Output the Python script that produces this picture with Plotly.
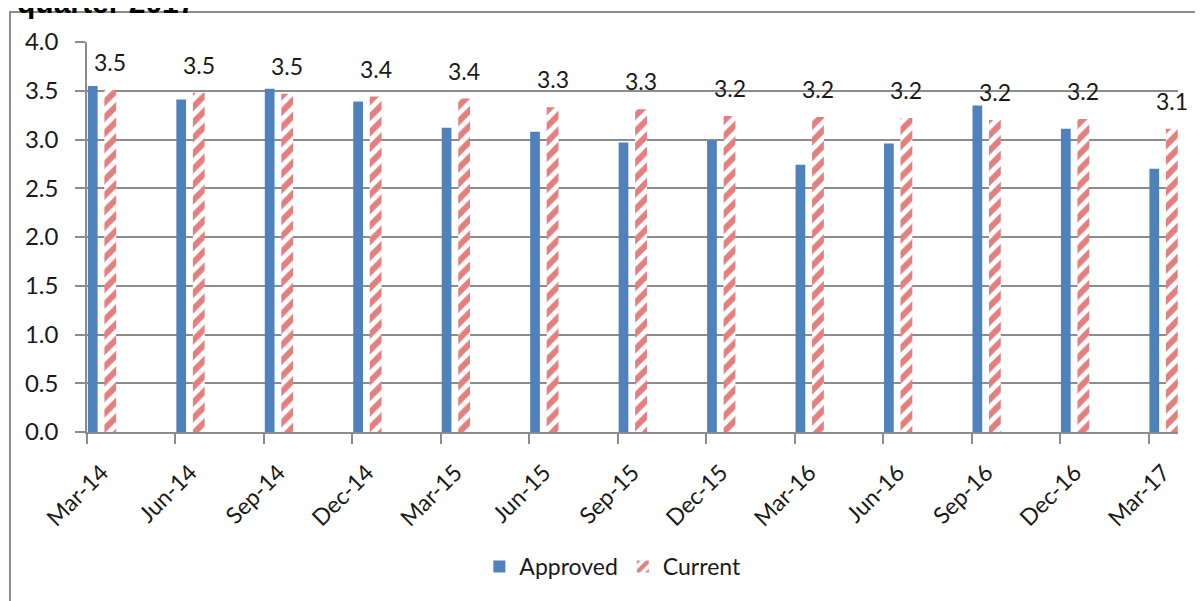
import plotly.graph_objects as go

quarters = ["Mar-14", "Jun-14", "Sep-14", "Dec-14", "Mar-15", "Jun-15", "Sep-15",
            "Dec-15", "Mar-16", "Jun-16", "Sep-16", "Dec-16", "Mar-17"]
# months since Mar-14 (the axis is a monthly date axis)
month_idx = [0, 3, 6, 9, 12, 15, 18, 21, 24, 27, 30, 33, 36]
approved = [3.55, 3.41, 3.52, 3.39, 3.12, 3.08, 2.97, 2.99, 2.74, 2.96, 3.35, 3.11, 2.70]
current = [3.51, 3.48, 3.47, 3.44, 3.42, 3.33, 3.31, 3.24, 3.23, 3.22, 3.20, 3.21, 3.11]
y_ticks = [0.0, 0.5, 1.0, 1.5, 2.0, 2.5, 3.0, 3.5, 4.0]

FONT = "Lato"
GREY = "#8c8c8c"
TXT = "#1a1a1a"

fig = go.Figure()

fig.add_trace(go.Bar(
    x=month_idx, y=approved, name="Approved",
    offset=-0.47, width=0.33,
    marker=dict(color="#4F81BD", line=dict(width=0)),
))
fig.add_trace(go.Bar(
    x=month_idx, y=current, name="Current",
    offset=0.09, width=0.40,
    marker=dict(color="white", line=dict(width=0),
                pattern=dict(shape="/", fgcolor="#C80000", bgcolor="white",
                             size=11, solidity=0.55)),
))

# value labels above the Current bars
for m, v in zip(month_idx, current):
    fig.add_annotation(x=m + 0.29, y=v, text=f"{v:.1f}", showarrow=False,
                       yshift=28, font=dict(family=FONT, size=23, color=TXT))

# cut-off title from the page above
fig.add_annotation(xref="paper", yref="paper", x=-0.066, y=1.053,
                   xanchor="left", yanchor="bottom", showarrow=False,
                   text="<b>quarter 2017</b>",
                   font=dict(family="Liberation Sans", size=30, color="black"))

# outer chart frame
fig.add_shape(type="rect", xref="paper", yref="paper",
              x0=-0.0706, x1=1.2, y0=-0.6, y1=1.0769,
              line=dict(color=GREY, width=2), layer="below")

fig.update_layout(
    width=1195, height=593,
    margin=dict(l=79, r=25, t=34, b=169),
    plot_bgcolor="white", paper_bgcolor="white",
    barmode="overlay",
    font=dict(family=FONT, size=23, color=TXT),
    showlegend=True,
    legend=dict(orientation="h", x=0.482, xanchor="center", y=-0.345, yanchor="middle",
                font=dict(family=FONT, size=23, color=TXT), itemwidth=30),
)

fig.update_xaxes(
    range=[-0.5, 36.5],
    tickvals=month_idx, ticktext=quarters, tickangle=-45,
    ticks="", showgrid=False,
    showline=True, linecolor=GREY, linewidth=2,
    minor=dict(tick0=-0.5, dtick=3, ticks="outside", ticklen=10,
               tickcolor=GREY, tickwidth=2, showgrid=False),
    tickfont=dict(family=FONT, size=23, color=TXT),
    ticklabelstandoff=16,
)
fig.update_yaxes(
    range=[0, 4.0],
    tickvals=y_ticks, ticktext=[f"{t:.1f}" for t in y_ticks],
    showgrid=True, gridcolor=GREY, gridwidth=1.5,
    showline=True, linecolor=GREY, linewidth=1.5,
    ticks="outside", ticklen=10, tickcolor=GREY, tickwidth=1.5,
    zeroline=False,
    tickfont=dict(family=FONT, size=24, color=TXT),
    ticklabelstandoff=12,
)

fig.write_html("out.html")
